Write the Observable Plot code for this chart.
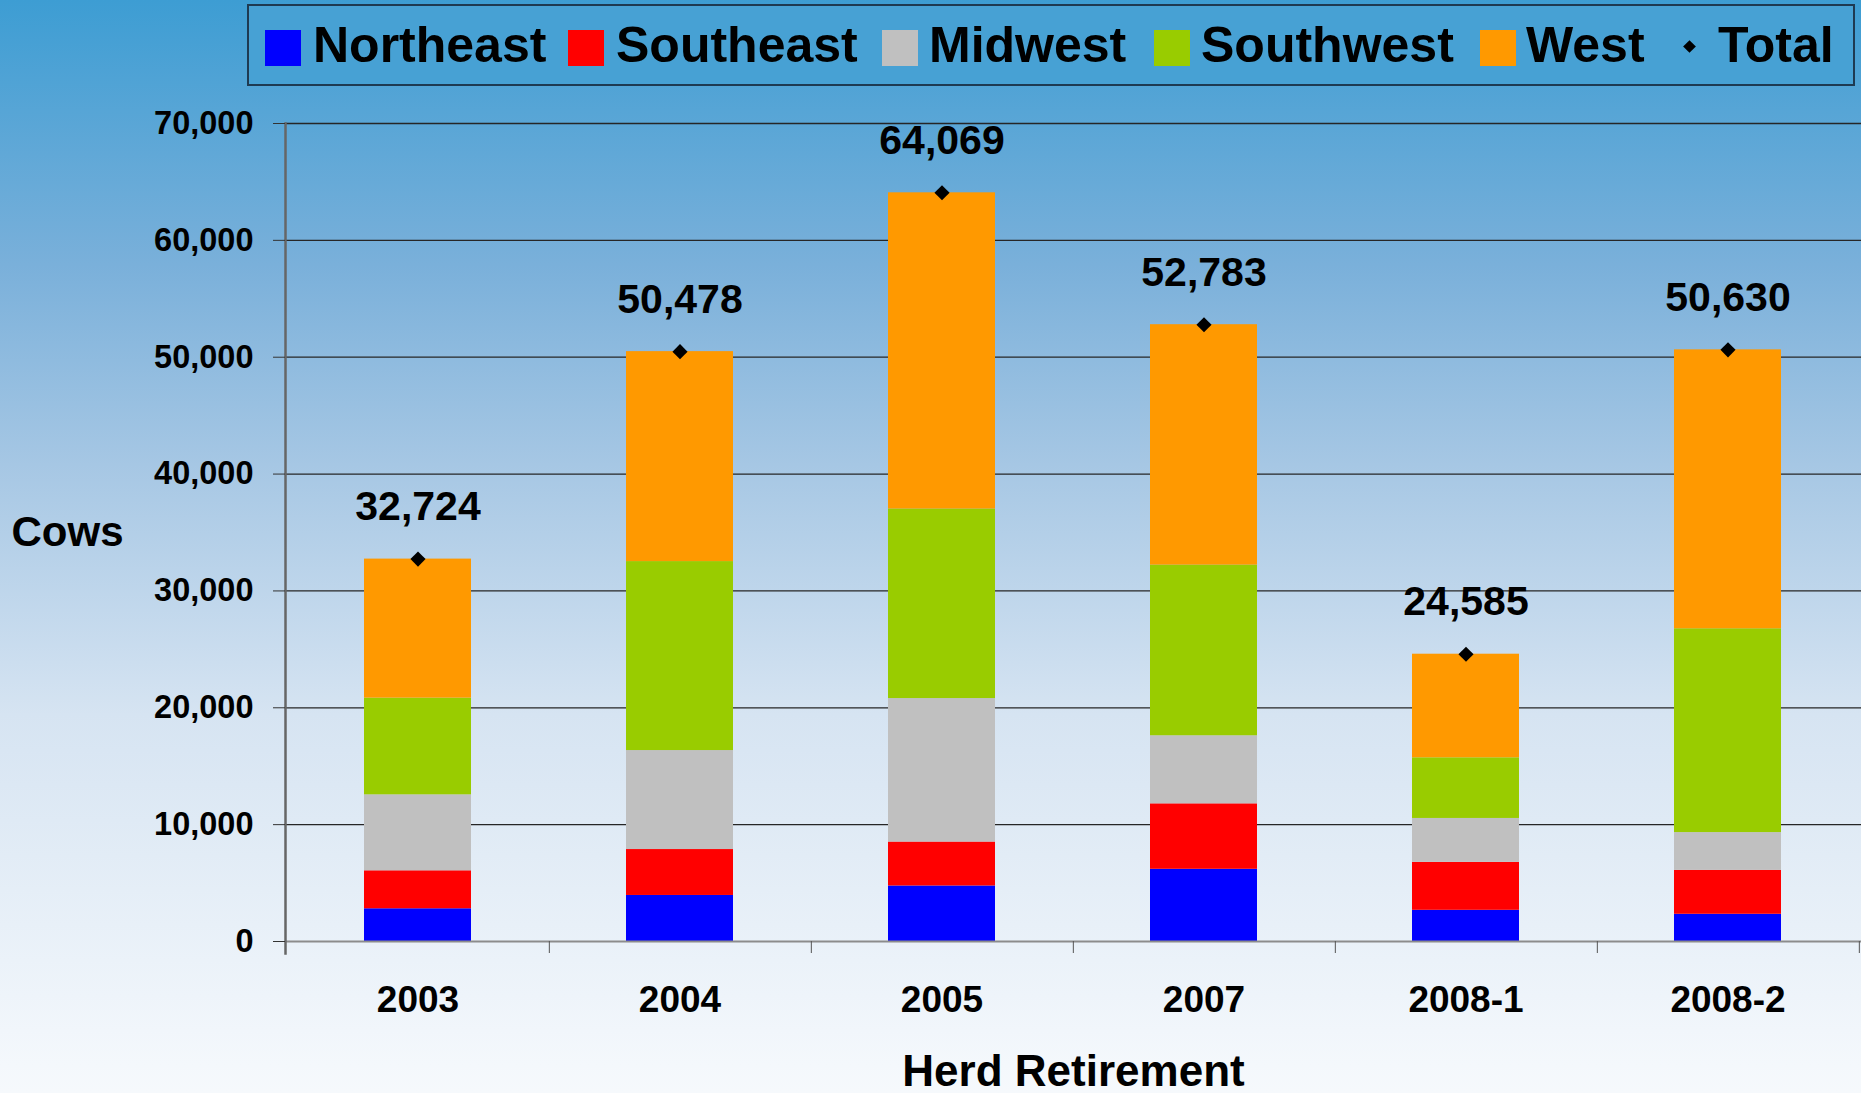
<!DOCTYPE html>
<html>
<head>
<meta charset="utf-8">
<script src="https://cdn.jsdelivr.net/npm/d3@7"></script>
<script src="https://cdn.jsdelivr.net/npm/@observablehq/plot@0.6"></script>
<style>
  html, body { margin: 0; padding: 0; }
  body {
    width: 1861px; height: 1093px; overflow: hidden; position: relative;
    background: linear-gradient(to bottom, #3d9dd3 0px, #7ab0da 265px, #a6c7e4 465px, #d6e4f2 715px, #f4f8fc 1065px, #f6f9fc 1093px);
    font-family: "Liberation Sans", Arial, sans-serif; font-weight: bold; color: #000;
  }
  #legend {
    position: absolute; left: 247px; top: 4px; width: 1604px; height: 78px;
    border: 2px solid #1e3a52; background: #47a1d4; box-sizing: content-box;
  }
  .sw { position: absolute; width: 36px; height: 36px; top: 30px; }
  .lt { position: absolute; top: 20px; font-size: 50px; line-height: 50px; white-space: nowrap; }
  .dia { position: absolute; width: 9px; height: 9px; background: #000; transform: rotate(45deg); top: 42px; }
  #chart { position: absolute; left: 0; top: 90px; }
</style>
</head>
<body>
<div id="legend"></div>
<div id="legendItems"></div>
<div id="chart"></div>
<script>
// ---- data ----
const categories = ["2003", "2004", "2005", "2007", "2008-1", "2008-2"];
const regions = ["Northeast", "Southeast", "Midwest", "Southwest", "West"];
const regionColors = ["#0000ff", "#ff0000", "#c0c0c0", "#99cc00", "#ff9900"];
const northeast = [2800, 3940, 4750, 6180, 2670, 2330];
const southeast = [3250, 3930, 3760, 5600, 4100, 3760];
const midwest   = [6500, 8470, 12280, 5825, 3760, 3230];
const southwest = [8275, 16170, 16220, 14605, 5190, 17440];
const west      = [11899, 17968, 27059, 20573, 8865, 23870];
const totals    = [32724, 50478, 64069, 52783, 24585, 50630];
const yTicks    = [0, 10000, 20000, 30000, 40000, 50000, 60000, 70000];

// ---- build tables ----
const series = [northeast, southeast, midwest, southwest, west];
const rows = [];
categories.forEach((c, i) => {
  regions.forEach((r, j) => rows.push({year: c, region: r, value: series[j][i]}));
});
const totalRows = categories.map((c, i) => ({year: c, total: totals[i]}));

// ---- legend (HTML) ----
const legendItems = document.getElementById("legendItems");
const swLeft = [265, 568, 882, 1154, 1480];
const txLeft = [313, 616, 929, 1201, 1526];
regions.forEach((r, j) => {
  const s = document.createElement("div");
  s.className = "sw"; s.style.left = swLeft[j] + "px"; s.style.background = regionColors[j];
  legendItems.appendChild(s);
  const t = document.createElement("div");
  t.className = "lt"; t.style.left = txLeft[j] + "px"; t.textContent = r;
  legendItems.appendChild(t);
});
const dia = document.createElement("div");
dia.className = "dia"; dia.style.left = "1685px";
legendItems.appendChild(dia);
const tt = document.createElement("div");
tt.className = "lt"; tt.style.left = "1718px"; tt.textContent = "Total";
legendItems.appendChild(tt);

// ---- chart ----
const W = 1861, H = 1003, mL = 285, mR = 0, mT = 33, mB = 152;
const step = (W - mL - mR) / categories.length;
const fmt = d3.format(",");

const chart = Plot.plot({
  width: W, height: H,
  marginLeft: mL, marginRight: mR, marginTop: mT, marginBottom: mB,
  style: {background: "transparent", fontFamily: "'Liberation Sans', Arial, sans-serif", fontWeight: "bold", color: "#000", overflow: "visible"},
  x: {domain: categories, paddingInner: 0.59, paddingOuter: 0.295, label: null, axis: null},
  y: {domain: [0, 70000], label: null, axis: null},
  color: {domain: regions, range: regionColors},
  marks: [
    Plot.gridY(yTicks.slice(1), {stroke: "#262626", strokeOpacity: 1, strokeWidth: 1.3}),
    Plot.barY(rows, {x: "year", y: "value", fill: "region"}),
    Plot.ruleY([0], {stroke: "#8c8c8c", strokeWidth: 2}),
    Plot.frame({anchor: "left", insetBottom: -12, stroke: "#666", strokeWidth: 2.5}),
    Plot.axisY(yTicks, {tickSize: 12, tickPadding: 20, fontSize: 32.5, fontWeight: "bold", tickFormat: fmt, label: null, stroke: "#333"}),
    Plot.axisX(categories, {tickSize: 0, tickPadding: 44, fontSize: 37, fontWeight: "bold", label: null}),
    Plot.axisX(categories, {tickSize: 12, tickFormat: () => "", dx: step / 2, label: null, stroke: "#555"}),
    Plot.dot(totalRows, {x: "year", y: "total", symbol: "diamond2", r: 6.8, fill: "#000", stroke: "none"}),
    Plot.text(totalRows, {x: "year", y: "total", text: d => fmt(d.total), dy: -39, lineAnchor: "bottom", fontSize: 41, fontWeight: "bold", fill: "#000"}),
    Plot.text(["Cows"], {frameAnchor: "left", text: d => d, textAnchor: "start", dx: -274, fontSize: 42, fontWeight: "bold", fill: "#000"}),
    Plot.text(["Herd Retirement"], {frameAnchor: "bottom", text: d => d, lineAnchor: "bottom", dy: 144, fontSize: 44, fontWeight: "bold", fill: "#000"})
  ]
});
document.getElementById("chart").appendChild(chart);
</script>
</body>
</html>
